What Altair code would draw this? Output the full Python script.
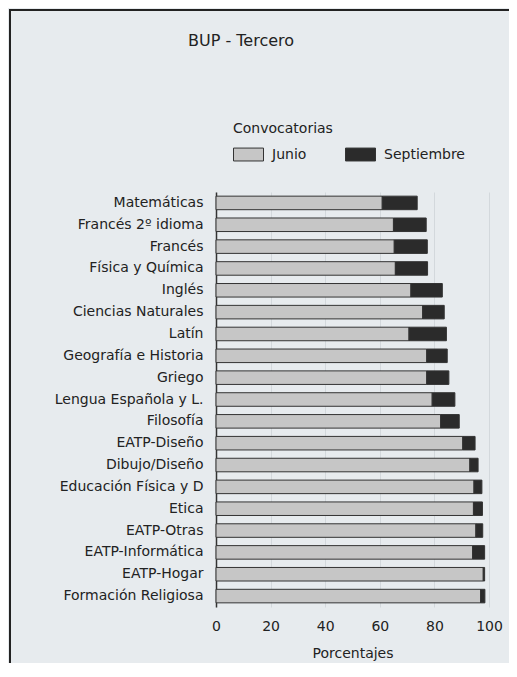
import altair as alt
import pandas as pd

subjects = ["Matemáticas", "Francés 2º idioma", "Francés", "Física y Química", "Inglés",
            "Ciencias Naturales", "Latín", "Geografía e Historia", "Griego",
            "Lengua Española y L.", "Filosofía", "EATP-Diseño", "Dibujo/Diseño",
            "Educación Física y D", "Etica", "EATP-Otras", "EATP-Informática",
            "EATP-Hogar", "Formación Religiosa"]
junio = [60.9, 65.0, 65.3, 65.7, 71.4, 75.7, 70.7, 77.2, 77.2, 79.2, 82.3,
         90.4, 93.0, 94.5, 94.3, 95.2, 94.0, 97.9, 96.9]
septiembre = [12.8, 12.0, 12.1, 11.8, 11.5, 7.9, 13.7, 7.5, 8.1, 8.3, 6.8,
              4.5, 3.0, 2.9, 3.3, 2.5, 4.4, 0.5, 1.6]
series = ["Junio", "Septiembre"]
x_ticks = [0, 20, 40, 60, 80, 100]

rows = []
for s, j, sp in zip(subjects, junio, septiembre):
    rows.append({"asignatura": s, "conv": "Junio", "valor": j, "orden": 0})
    rows.append({"asignatura": s, "conv": "Septiembre", "valor": sp, "orden": 1})
df = pd.DataFrame(rows)

FONT = "DejaVu Sans"
TXT = "#222222"

bars = alt.Chart(df).mark_bar(stroke="#333333", strokeWidth=1).encode(
    y=alt.Y("asignatura:N", sort=subjects, title=None,
            scale=alt.Scale(paddingInner=0.38),
            axis=alt.Axis(labelFont=FONT, labelFontSize=14, labelColor=TXT,
                          ticks=False, labelPadding=13, domain=True,
                          domainColor="#333333", domainWidth=1.5,
                          labelLimit=300)),
    x=alt.X("valor:Q", stack="zero", title="Porcentajes",
            scale=alt.Scale(domain=[0, 100], nice=False),
            axis=alt.Axis(values=x_ticks, labelFont=FONT, labelFontSize=14,
                          labelColor=TXT, ticks=False, domain=False,
                          labelFlush=False, labelPadding=12, grid=True,
                          gridColor="#d3d8dc",
                          titleFont=FONT, titleFontSize=14, titleColor=TXT,
                          titleFontWeight="normal", titlePadding=13)),
    color=alt.Color("conv:N", scale=alt.Scale(domain=series, range=["#c6c6c6", "#2b2b2b"]),
                    legend=alt.Legend(orient="none", legendX=17, legendY=-70,
                                      direction="horizontal", title="Convocatorias",
                                      titleFont=FONT, titleFontSize=14,
                                      titleFontWeight="normal", titleColor=TXT,
                                      titlePadding=3, labelFont=FONT,
                                      labelFontSize=14, labelColor=TXT,
                                      symbolType="M-1,-0.43H1V0.43H-1Z",
                                      symbolSize=900, symbolStrokeColor="#333333",
                                      symbolStrokeWidth=1, symbolOpacity=1,
                                      labelOffset=8, columnPadding=36)),
    order=alt.Order("orden:Q"),
)

frame = alt.Chart(alt.Data(values=[{}])).mark_rect(
    fill=None, stroke="#222222", strokeWidth=2
).encode(x=alt.value(-206), x2=alt.value(320), y=alt.value(-182), y2=alt.value(520))

chart = alt.layer(bars, frame).properties(
    width=273, height=415,
    title=alt.TitleParams("BUP - Tercero", anchor="start", frame="group", dx=-28,
                          offset=-40, font=FONT, fontSize=16, fontWeight="normal",
                          color=TXT),
    autosize=alt.AutoSizeParams(type="none"),
    padding={"left": 208, "top": 184, "right": 20, "bottom": 56},
    background="#e7ebee",
).configure_view(stroke=None)

chart.save("out.html", embed_options={"renderer": "svg", "actions": False})
